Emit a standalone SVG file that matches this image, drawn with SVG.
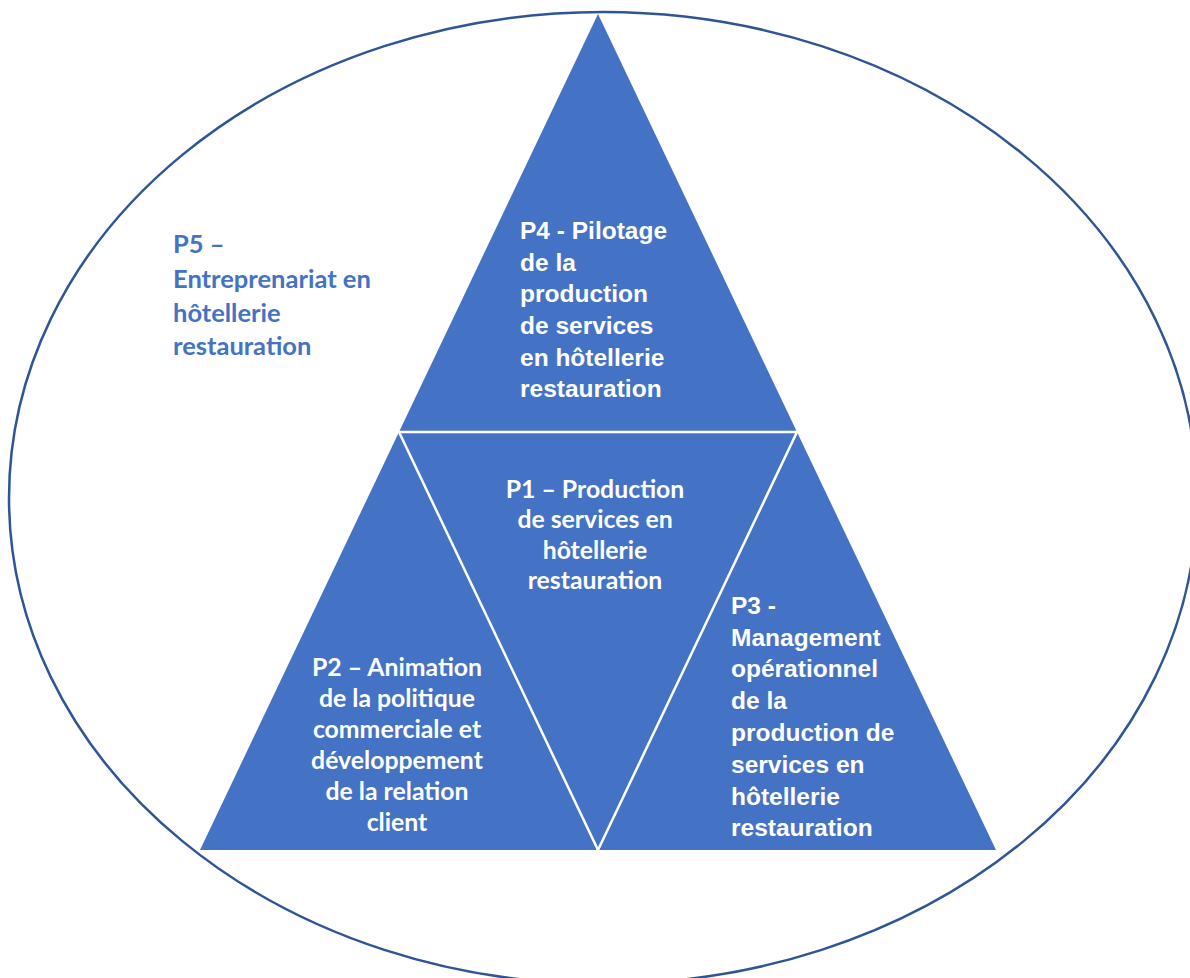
<svg xmlns="http://www.w3.org/2000/svg" width="1190" height="978" viewBox="0 0 1190 978">
<style>
.tri{fill:#4472C4;}
.sep{stroke:#FFFFFF;stroke-width:2.5;fill:none;}
.ar{font-family:"Liberation Sans",Arial,sans-serif;font-weight:bold;font-size:24.5px;fill:#FFFFFF;}
.cal{font-family:Lato,"Open Sans",sans-serif;font-weight:bold;font-size:24.8px;fill:#FFFFFF;text-anchor:middle;}
.p5{font-family:Lato,"Open Sans",sans-serif;font-weight:bold;font-size:25.5px;fill:#4472C4;}
</style>
<rect width="1190" height="978" fill="#FFFFFF"/>
<g id="P5">
<ellipse cx="603" cy="498" rx="594" ry="486" fill="#FFFFFF" stroke="#2F5597" stroke-width="2.5"/>
<text class="p5" x="173"><tspan x="173" y="253">P5 –</tspan><tspan x="173" y="288">Entreprenariat en</tspan><tspan x="173" y="322">hôtellerie</tspan><tspan x="173" y="355">restauration</tspan></text>
</g>
<g id="P4">
<polygon class="tri" points="598,14 399,432 797,432"/>
<text class="ar"><tspan x="520" y="239">P4 - Pilotage</tspan><tspan x="520" y="271">de la</tspan><tspan x="520" y="302">production</tspan><tspan x="520" y="334">de services</tspan><tspan x="520" y="366">en hôtellerie</tspan><tspan x="520" y="397">restauration</tspan></text>
</g>
<g id="P2">
<polygon class="tri" points="399,432 200,850 598,850"/>
<text class="cal"><tspan x="397" y="676">P2 – Animation</tspan><tspan x="397" y="707">de la politique</tspan><tspan x="397" y="738">commerciale et</tspan><tspan x="397" y="769">développement</tspan><tspan x="397" y="800">de la relation</tspan><tspan x="397" y="831">client</tspan></text>
</g>
<g id="P3">
<polygon class="tri" points="797,432 598,850 996,850"/>
<text class="ar"><tspan x="731" y="614">P3 -</tspan><tspan x="731" y="646">Management</tspan><tspan x="731" y="677">opérationnel</tspan><tspan x="731" y="709">de la</tspan><tspan x="731" y="741">production de</tspan><tspan x="731" y="773">services en</tspan><tspan x="731" y="805">hôtellerie</tspan><tspan x="731" y="836">restauration</tspan></text>
</g>
<g id="P1">
<polygon class="tri" points="399,432 797,432 598,850"/>
<text class="cal"><tspan x="595" y="498">P1 – Production</tspan><tspan x="595" y="528">de services en</tspan><tspan x="595" y="559">hôtellerie</tspan><tspan x="595" y="589">restauration</tspan></text>
</g>
<g id="connectors">
<line class="sep" x1="399" y1="432" x2="797" y2="432"/>
<line class="sep" x1="399" y1="432" x2="598" y2="850"/>
<line class="sep" x1="797" y1="432" x2="598" y2="850"/>
</g>
</svg>
